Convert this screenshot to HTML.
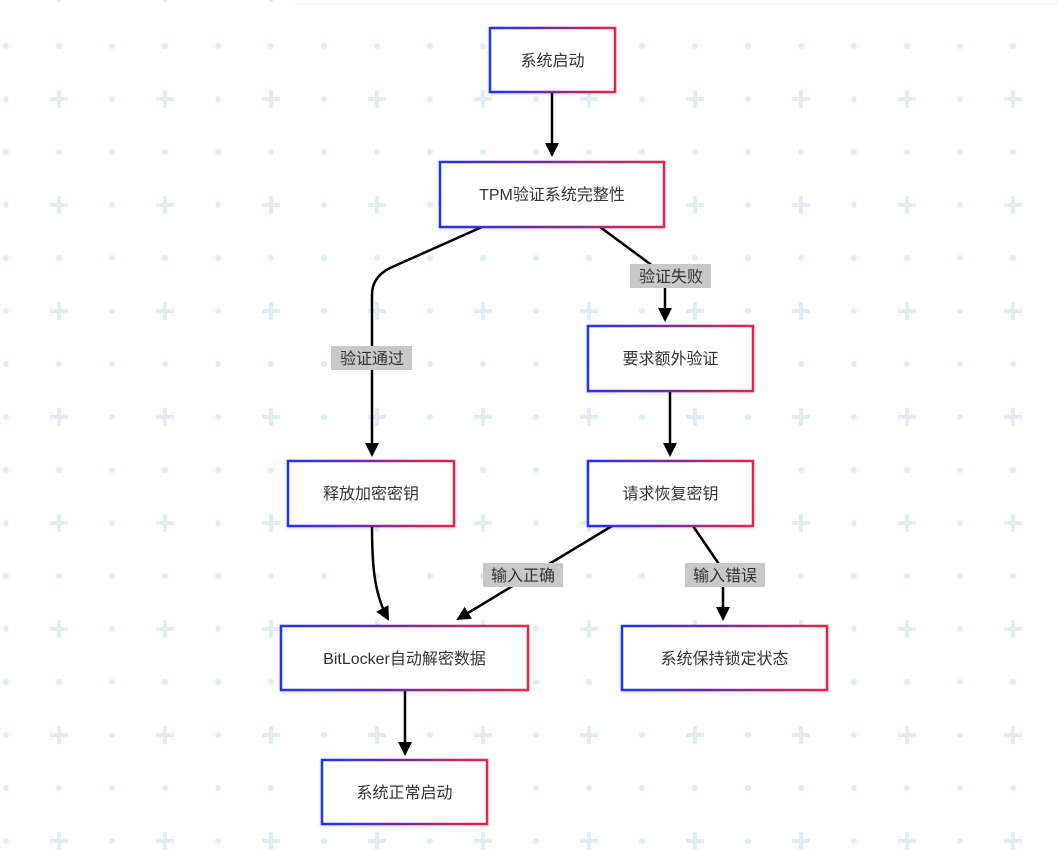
<!DOCTYPE html>
<html><head><meta charset="utf-8"><style>
html,body{margin:0;padding:0;background:#fff}
svg{display:block}
text{font-family:"Liberation Sans","Noto Sans CJK SC",sans-serif;font-size:16px;fill:#333}
</style></head><body>
<svg width="1058" height="850" viewBox="0 0 1058 850" xmlns="http://www.w3.org/2000/svg">
<defs>
<pattern id="bg" patternUnits="userSpaceOnUse" x="-20.5" y="19.5" width="106" height="106">
<circle cx="26.5" cy="26.5" r="3" fill="#e0eef2"/>
<circle cx="79.5" cy="26.5" r="3" fill="#e0eef2"/>
<circle cx="26.5" cy="79.5" r="3" fill="#e0eef2"/>
<rect x="70.5" y="77.5" width="18" height="4" fill="#e0eef2"/>
<rect x="77.5" y="70.5" width="4" height="18" fill="#e0eef2"/>
</pattern>
<linearGradient id="g" x1="0" y1="0" x2="1" y2="0">
<stop offset="0" stop-color="#1f35ee"/><stop offset="0.5" stop-color="#7a2a9a"/><stop offset="1" stop-color="#e3284a"/>
</linearGradient>
<marker id="a" markerWidth="14" markerHeight="14" refX="12" refY="7" orient="auto" markerUnits="userSpaceOnUse">
<path d="M0,0 L14,7 L0,14 z" fill="#000"/>
</marker>
<filter id="sh" x="-10%" y="-10%" width="120%" height="130%"><feDropShadow dx="0" dy="1" stdDeviation="1.5" flood-color="#000" flood-opacity="0.15"/></filter>
</defs>
<rect width="1058" height="850" fill="url(#bg)"/>
<rect x="290" y="-6" width="768" height="10" rx="5" fill="#fff" stroke="#eef3f5"/>

<g stroke="#000" stroke-width="2.5" fill="none" marker-end="url(#a)">
<path d="M552,92 L552,155"/>
<path d="M482,227 L390,268 Q372,277 372,295 L372,455"/>
<path d="M600,227 L665,275 L665,320"/>
<path d="M670,391 L670,455"/>
<path d="M372,526 C372,570 375,595 388,619"/>
<path d="M612,526 L458,619"/>
<path d="M693,526 L723,570 L723,619"/>
<path d="M405,690 L405,754"/>
</g>

<g fill="#c8c8c8">
<rect x="331" y="346" width="81" height="24"/>
<rect x="630" y="264" width="81" height="24"/>
<rect x="483" y="563" width="80" height="24"/>
<rect x="685" y="563" width="80" height="24"/>
</g>
<g text-anchor="middle">
<text x="372" y="364">验证通过</text>
<text x="671" y="282">验证失败</text>
<text x="523" y="581">输入正确</text>
<text x="725" y="581">输入错误</text>
</g>

<g fill="#fff" stroke="url(#g)" stroke-width="2.5" filter="url(#sh)">
<rect x="490" y="28" width="125" height="64"/>
<rect x="440" y="162" width="224" height="65"/>
<rect x="588" y="326" width="165" height="65"/>
<rect x="288" y="461" width="166" height="65"/>
<rect x="588" y="461" width="165" height="65"/>
<rect x="281" y="626" width="247" height="64"/>
<rect x="622" y="626" width="205" height="64"/>
<rect x="322" y="760" width="165" height="64"/>
</g>
<g text-anchor="middle">
<text x="552.5" y="66">系统启动</text>
<text x="552" y="200">TPM验证系统完整性</text>
<text x="670.5" y="364">要求额外验证</text>
<text x="371" y="499">释放加密密钥</text>
<text x="670.5" y="499">请求恢复密钥</text>
<text x="404.5" y="664">BitLocker自动解密数据</text>
<text x="724.5" y="664">系统保持锁定状态</text>
<text x="404.5" y="798">系统正常启动</text>
</g>
</svg>
</body></html>
